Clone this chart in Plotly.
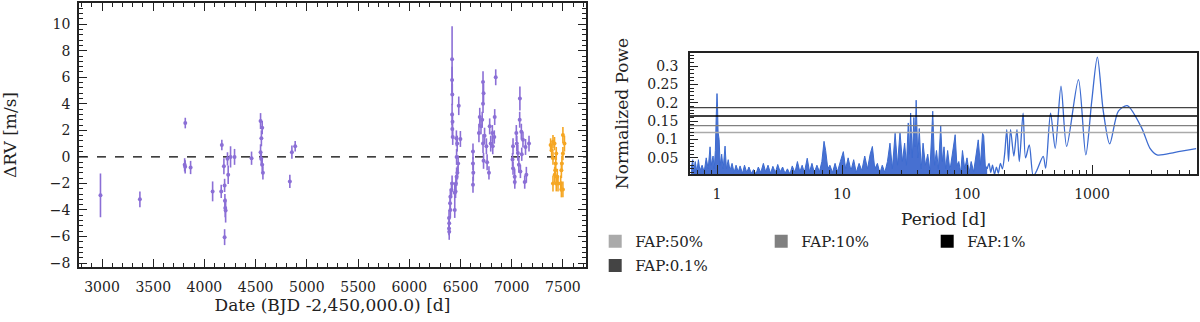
import plotly.graph_objects as go

# RV time series (BJD - 2,450,000), delta RV [m/s], error [m/s]
hires_t = [2985, 3370, 3813, 3807, 3812, 3865, 4080, 4170, 4164, 4190, 4197, 4200, 4203, 4207, 4197,
           4225, 4232, 4255, 4294, 4460, 4548, 4564, 4556, 4548, 4555, 4564, 4571, 4834, 4854, 4886,
           6418, 6418, 6420, 6418, 6422, 6420, 6424, 6483, 6460, 6468, 6499, 6462, 6477, 6462, 6455,
           6444, 6418, 6412, 6401, 6398, 6401, 6388, 6390, 6388, 6390, 6444, 6452, 6470,
           6622, 6622, 6625, 6622, 6680, 6688, 6700, 6720, 6725, 6720, 6712, 6720, 6735, 6753, 6725,
           6760, 6778, 6785, 6795, 6811, 6834, 6844, 6815, 6830,
           7013, 7008, 7029, 7045, 7050, 7060, 7080, 7078, 7070, 7085, 7094, 7098, 7110, 7135, 7143,
           7169, 7013, 7030, 7127]
hires_rv = [-2.9, -3.2, 2.55, -0.6, -0.75, -0.8, -2.6, 0.9, -2.6, -0.7, -2.15, -3.3, -3.85, -4.05, -6.05,
            -0.15, -1.35, 0.0, 0.0, -0.1, 2.7, 2.2, 1.4, 0.35, -0.15, -0.6, -1.2, -1.85, 0.35, 0.8,
            7.35, 5.8, 4.7, 3.2, 2.65, 2.1, 1.5, 3.85, 1.4, 1.0, 1.35, 0.0, -0.5, -1.5, -2.0,
            -2.7, -2.0, -2.5, -3.0, -3.5, -4.0, -4.6, -5.0, -5.4, -5.65, -4.0, -2.6, -1.2,
            0.4, -0.5, -1.2, -2.1, 1.8, 3.0, 2.3, 5.65, 4.8, 4.0, 2.8, 1.0, 1.6, 0.8, -0.3,
            -0.4, -1.2, 2.3, 1.0, 1.8, 3.0, 6.0, 0.8, 1.5,
            -0.85, -0.2, -1.5, 1.8, 1.0, 0.3, 4.4, 2.8, -0.6, -1.1, 1.9, 0.2, 1.3, 0.75, -1.35,
            1.0, 0.8, -1.9, -1.9]
hires_err = [1.65, 0.6, 0.4, 0.5, 0.5, 0.5, 0.75, 0.4, 0.5, 0.6, 0.5, 0.5, 0.7, 0.9, 0.6,
             0.5, 0.7, 0.8, 0.6, 0.5, 0.6, 0.5, 0.6, 0.6, 0.5, 0.5, 0.5, 0.5, 0.5, 0.4,
             2.5, 1.0, 0.8, 0.8, 0.7, 0.6, 0.6, 0.7, 0.6, 0.6, 0.6, 0.6, 0.6, 0.7, 0.6,
             0.7, 0.6, 0.6, 0.6, 0.6, 0.6, 0.6, 0.5, 0.5, 0.6, 0.6, 0.5, 0.5,
             0.6, 0.5, 0.6, 0.6, 0.7, 0.7, 0.6, 0.8, 0.7, 0.7, 0.6, 0.7, 0.6, 0.6, 0.6,
             0.6, 0.5, 0.6, 0.6, 0.6, 0.6, 0.6, 0.6, 0.5,
             0.5, 0.5, 0.6, 0.6, 0.6, 0.6, 0.9, 0.6, 0.6, 0.5, 0.6, 0.5, 0.6, 0.6, 0.6,
             0.6, 0.6, 0.5, 0.5]

harps_t = [7380, 7390, 7403, 7418, 7435, 7430, 7425, 7420, 7403, 7435, 7452, 7478, 7485, 7500,
           7485, 7490, 7500, 7515, 7500, 7445, 7403]
harps_rv = [0.9, 0.5, 1.15, 1.0, 0.25, -0.5, -1.0, -1.35, -2.0, -2.0, -2.0, -2.0, -2.45, -2.45,
            -1.0, -0.5, 0.25, 1.0, 1.65, -1.5, -0.1]
harps_err = [0.5, 0.5, 0.5, 0.5, 0.5, 0.6, 0.6, 0.6, 0.6, 0.6, 0.6, 0.6, 0.6, 0.6,
             0.6, 0.6, 0.5, 0.6, 0.6, 0.6, 0.5]

# periodogram, noisy short-period part
per_noisy = [0.62, 0.64, 0.65, 0.67, 0.69, 0.71, 0.73, 0.76, 0.79, 0.82, 0.85, 0.88, 0.9, 0.93, 0.95,
             0.97, 0.985, 1.0, 1.01, 1.02, 1.04, 1.06, 1.09, 1.12, 1.16, 1.19, 1.23, 1.27, 1.32, 1.37,
             1.42, 1.48, 1.53, 1.6, 1.66, 1.73, 1.8, 1.88, 1.96, 2.05, 2.14, 2.24, 2.35, 2.45, 2.56,
             2.68, 2.8, 2.93, 3.06, 3.2, 3.35, 3.5, 3.66, 3.83, 4.0, 4.2, 4.4, 4.6, 4.8, 5.0,
             5.27, 5.5, 5.75, 6.0, 6.3, 6.6, 6.9, 7.18, 7.4, 7.7, 8.0, 8.4, 8.8, 9.2, 9.7,
             10.25, 10.7, 11.2, 11.8, 12.4, 13.0, 13.7, 14.4, 15.2, 16.0, 16.8, 17.5, 18.3, 19.2, 20.1,
             21.0, 22.0, 23.1, 24.2, 25.3, 26.6, 27.8, 29.1, 30.4, 31.7, 32.8, 33.9, 34.6, 35.4, 36.5,
             37.6, 38.4, 39.2, 40.4, 41.5, 43, 44.5, 46.5, 48.5, 50.5, 53.2, 55, 57, 59, 61.6,
             63.5, 65.5, 67.5, 70, 73, 76.5, 80.4, 83, 86, 89, 92, 96, 100, 104, 108,
             113, 118, 123, 128, 133.2, 136, 140, 145]
pow_noisy = [0.02, 0.045, 0.01, 0.04, 0.012, 0.045, 0.015, 0.03, 0.012, 0.05, 0.02, 0.08, 0.03, 0.055, 0.02,
             0.07, 0.16, 0.225, 0.19, 0.12, 0.10, 0.03, 0.06, 0.02, 0.082, 0.02, 0.045, 0.015, 0.035, 0.01,
             0.03, 0.012, 0.028, 0.008, 0.03, 0.01, 0.025, 0.008, 0.018, 0.006, 0.025, 0.01, 0.035, 0.012, 0.03,
             0.008, 0.027, 0.01, 0.032, 0.012, 0.025, 0.008, 0.02, 0.006, 0.028, 0.01, 0.04, 0.012, 0.03, 0.01,
             0.049, 0.012, 0.035, 0.01, 0.03, 0.012, 0.04, 0.095, 0.07, 0.02, 0.03, 0.01, 0.035, 0.012, 0.04,
             0.067, 0.02, 0.05, 0.015, 0.045, 0.01, 0.035, 0.015, 0.055, 0.02, 0.06, 0.081, 0.02, 0.035, 0.008,
             0.03, 0.01, 0.04, 0.09, 0.02, 0.117, 0.03, 0.12, 0.04, 0.09, 0.03, 0.145, 0.06, 0.172, 0.05,
             0.16, 0.08, 0.207, 0.05, 0.13, 0.02, 0.09, 0.03, 0.06, 0.015, 0.177, 0.03, 0.07, 0.02, 0.137,
             0.04, 0.08, 0.02, 0.07, 0.015, 0.06, 0.113, 0.03, 0.04, 0.01, 0.07, 0.02, 0.05, 0.01, 0.04,
             0.012, 0.06, 0.099, 0.03, 0.117, 0.11, 0.03, 0.02]

# periodogram, smooth long-period part
per_smooth = [145, 150, 155, 160, 166, 172, 178, 185, 192, 200, 208, 215, 223, 237, 251, 262, 281, 294,
              315, 339, 361, 407, 426, 466, 508, 565, 627, 779, 892, 995, 1104, 1231, 1385, 1625, 1913,
              2500, 2911, 3314, 4613, 6810]
pow_smooth = [0.02, 0.035, 0.01, 0.03, 0.005, 0.025, 0.008, 0.035, 0.02, 0.06, 0.127, 0.04, 0.127, 0.055,
              0.127, 0.04, 0.172, 0.05, 0.085, 0.0, 0.015, 0.054, 0.022, 0.172, 0.076, 0.245, 0.081, 0.263,
              0.058, 0.204, 0.324, 0.177, 0.088, 0.177, 0.192, 0.131, 0.076, 0.058, 0.065, 0.075]

fap_names = ["FAP:50%", "FAP:10%", "FAP:1%", "FAP:0.1%"]
fap_levels = [0.119, 0.138, 0.164, 0.187]
fap_colors = ["#aaaaaa", "#808080", "#000000", "#444444"]

purple = "#8b6fd6"
orange = "#f5a623"
blue = "#3c6bd0"
font_family = "DejaVu Serif"

fig = go.Figure()

fig.add_trace(go.Scatter(x=[2775, 7725], y=[0, 0], mode="lines",
                         line=dict(color="black", width=1.3, dash="dash"),
                         showlegend=False, xaxis="x", yaxis="y"))

for t, rv, err, col in [(hires_t, hires_rv, hires_err, purple), (harps_t, harps_rv, harps_err, orange)]:
    fig.add_trace(go.Scatter(x=t, y=rv, mode="markers",
                             marker=dict(color=col, size=4),
                             error_y=dict(type="data", array=err, color=col, thickness=1.6, width=0),
                             showlegend=False, xaxis="x", yaxis="y"))

# periodogram
fig.add_trace(go.Scatter(x=per_noisy, y=pow_noisy, mode="lines",
                         line=dict(color=blue, width=1),
                         fill="tozeroy", fillcolor="rgba(55,100,205,0.92)",
                         showlegend=False, xaxis="x2", yaxis="y2"))
fig.add_trace(go.Scatter(x=per_smooth, y=pow_smooth, mode="lines",
                         line=dict(color=blue, width=1.3, shape="spline", smoothing=0.8),
                         showlegend=False, xaxis="x2", yaxis="y2"))

for i, (name, lvl, col) in enumerate(zip(fap_names, fap_levels, fap_colors)):
    fig.add_trace(go.Scatter(x=[0.6, 7000], y=[lvl, lvl], mode="lines",
                             line=dict(color=col, width=1.3),
                             showlegend=False, xaxis="x2", yaxis="y2"))
    # last entry goes on a second legend row
    fig.add_trace(go.Scatter(x=[None], y=[None], mode="markers", name=name,
                             legend="legend" if i < 3 else "legend2",
                             marker=dict(color=col, symbol="square", size=13),
                             xaxis="x2", yaxis="y2"))

axis_common = dict(showline=True, linecolor="#222222", linewidth=1.5, showgrid=False,
                   zeroline=False, ticks="inside", tickcolor="#222222", automargin=False,
                   tickfont=dict(family=font_family, size=14, color="#222"))

log_minor = [m * 10 ** k for k in range(-1, 4) for m in range(2, 10)]
legend_style = dict(orientation="h", x=0.496, xanchor="left", yanchor="top",
                    entrywidth=121, entrywidthmode="pixels", tracegroupgap=0,
                    font=dict(family=font_family, size=15, color="#222"),
                    bgcolor="rgba(0,0,0,0)")

fig.update_layout(
    width=1200, height=322,
    margin=dict(l=0, r=0, t=0, b=0),
    paper_bgcolor="white", plot_bgcolor="white",
    font=dict(family=font_family, size=14, color="#222"),
    xaxis=dict(domain=[0.0658, 0.4883], range=[2775, 7725], dtick=500, tick0=3000,
               ticklen=8, tickwidth=1.3, mirror="ticks", ticklabelstandoff=6,
               minor=dict(dtick=100, ticklen=4, tickcolor="#222222", ticks="inside"),
               title=dict(text="Date (BJD -2,450,000.0) [d]", standoff=0), **axis_common),
    yaxis=dict(domain=[0.1708, 0.9907], range=[-8.3, 11.6], dtick=2, tick0=0,
               ticklen=8, tickwidth=1.3, mirror="ticks", ticklabelstandoff=4,
               minor=dict(dtick=0.4, ticklen=4, tickcolor="#222222", ticks="inside"),
               title=dict(text="ΔRV [m/s]", standoff=30), **axis_common),
    xaxis2=dict(domain=[0.575, 0.9975], type="log", range=[-0.216, 3.84], anchor="y2",
                tickvals=[1, 10, 100, 1000], ticklen=9, tickwidth=1.3, mirror=True,
                ticklabelstandoff=6,
                minor=dict(tickmode="array", tickvals=log_minor, ticklen=4,
                           tickcolor="#222222", ticks="inside"),
                title=dict(text="Period [d]", standoff=13), **axis_common),
    yaxis2=dict(domain=[0.4596, 0.8354], range=[0.006, 0.3355], anchor="x2",
                tickvals=[0.05, 0.1, 0.15, 0.2, 0.25, 0.3],
                ticktext=["0.05", "0.1", "0.15", "0.2", "0.25", "0.3"],
                ticklen=8, tickwidth=1.3, mirror=True, ticklabelstandoff=7,
                minor=dict(dtick=0.01, tick0=0, ticklen=4, tickcolor="#222222", ticks="inside"),
                title=dict(text="Normalized Powe", standoff=14), **axis_common),
    legend=dict(y=0.301, **legend_style),
    legend2=dict(y=0.226, **legend_style),
)

fig.write_html("out.html", config={"displayModeBar": False},
               post_script="document.body.style.margin='0px';")
